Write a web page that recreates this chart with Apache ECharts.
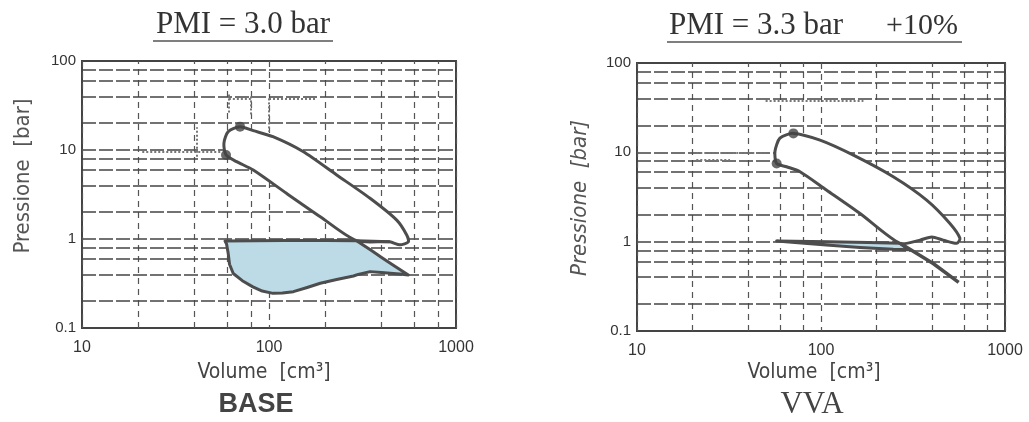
<!DOCTYPE html>
<html>
<head>
<meta charset="utf-8">
<style>
  html, body { margin: 0; padding: 0; background: #fff; }
  #chart { width: 1029px; height: 422px; }
</style>
<script src="https://cdn.jsdelivr.net/npm/echarts@6/dist/echarts.min.js"></script>
</head>
<body>
<div id="chart"></div>
<script>
  // minor log grid lines between the decades
  const volumeGrid = [20, 40, 60, 80, 200, 400, 600, 800];
  const pressureGrid = [0.2, 0.4, 0.6, 0.8, 2, 4, 6, 8, 20, 40, 60, 80];

  // BASE, PMI 3.0 bar  -- [volume cm3, pressure bar]
  const baseHighLoop = [[58.9, 8.8], [57.4, 11.9], [60.5, 16.1], [70, 18.3], [82.4, 16.5], [105, 14.1],
    [152, 9.6], [230, 5.24], [347, 2.87], [482, 1.63], [545, 1.11], [556, 0.93], [501, 0.86],
    [443, 0.93], [294, 0.957], [188, 1.78], [124, 3.26], [82.4, 5.96], [67.1, 7.4]];
  const baseLowLoop = [[58.2, 0.95], [120, 0.96], [200, 0.96], [294, 0.957], [350, 0.75], [400, 0.62],
    [460, 0.51], [556, 0.394], [500, 0.405], [462, 0.41], [400, 0.42], [347, 0.43], [300, 0.4],
    [283, 0.384], [230, 0.35], [188, 0.318], [160, 0.285], [135, 0.256], [118, 0.247], [105, 0.245],
    [92, 0.26], [82, 0.29], [72, 0.34], [64.4, 0.41], [61.5, 0.52], [60.5, 0.69], [59.3, 0.88]];
  const baseDots = [[58.9, 8.8], [70, 18.3]];
  const baseMarks = [
    [[21, 9.5], [55, 9.5]], [[41, 8.4], [41, 18]], [[61, 42], [61, 26]], [[61, 38], [80, 38]],
    [[80, 40], [80, 25]], [[100, 38], [180, 38]], [[100, 38], [100, 16]]
  ];

  // VVA, PMI 3.3 bar (+10%)
  const vvaHighLoop = [[57.4, 7.5], [56.2, 10.2], [59.8, 14.4], [70.8, 16.3], [98.8, 13.7], [150, 9.3],
    [247, 5.33], [375, 2.92], [502, 1.6], [569, 1.09], [547, 0.958], [462, 1.04], [400, 1.13],
    [345, 1.04], [269, 0.958], [163, 2.07], [107, 3.79], [76.9, 6.07], [65, 6.9]];
  const vvaLowLoop = [[57.4, 1.02], [110, 1.0], [180, 0.98], [269, 0.958], [299, 0.81], [247, 0.82],
    [163, 0.86], [107, 0.92], [75, 0.97]];
  const vvaExpansion = [[269, 0.958], [407, 0.57], [560, 0.35]];
  const vvaDots = [[57.4, 7.5], [70.8, 16.3]];
  const vvaMarks = [
    [[50, 37.5], [170, 37.5]], [[21, 9.8], [50, 9.8]], [[21, 8.2], [32, 8.2]]
  ];

  const hLine = { color: '#444', width: 1.7, type: [14, 3] };
  const vLine = { color: '#555', width: 1.2, type: [6, 5] };
  const narrow = '"DejaVu Sans Condensed", "Liberation Sans", sans-serif';

  function gridSeries(i) {
    return {
      type: 'line', xAxisIndex: i, yAxisIndex: i, data: [], silent: true, z: 1,
      markLine: {
        z: 1, symbol: ['none', 'none'], silent: true, animation: false,
        label: { show: false },
        emphasis: { disabled: true },
        data: volumeGrid.map(v => ({ xAxis: v, lineStyle: vLine }))
          .concat(pressureGrid.map(p => ({ yAxis: p, lineStyle: hLine })))
      }
    };
  }

  function loopSeries(i, points, fill, smooth) {
    return {
      type: 'custom', xAxisIndex: i, yAxisIndex: i, data: points, z: 3, silent: true,
      encode: { x: 0, y: 1 },
      renderItem(params, api) {
        if (params.dataIndex !== 0) return null;
        return {
          type: 'polygon',
          shape: { points: points.map(p => api.coord(p)), smooth: smooth },
          style: { fill: fill, stroke: '#4d4d4d', lineWidth: 3, lineJoin: 'round' }
        };
      }
    };
  }

  function marksSeries(i, segs) {
    return {
      type: 'lines', coordinateSystem: 'cartesian2d', xAxisIndex: i, yAxisIndex: i, z: 2, silent: true,
      data: segs.map(s => ({ coords: s })),
      lineStyle: { type: 'dotted', color: '#777', width: 2, opacity: 1 }
    };
  }

  function dotSeries(i, pts) {
    return {
      type: 'scatter', xAxisIndex: i, yAxisIndex: i, data: pts, z: 5, silent: true,
      symbolSize: 10, itemStyle: { color: '#444' }
    };
  }

  function xAxis(i) {
    return {
      type: 'log', logBase: 10, min: 10, max: 1000, gridIndex: i,
      axisLine: { show: false }, axisTick: { show: false },
      axisLabel: { fontSize: 16, color: '#333', margin: 12, fontFamily: 'Liberation Sans', formatter: v => String(v) },
      splitLine: { show: true, lineStyle: vLine }
    };
  }

  function yAxis(i) {
    return {
      type: 'log', logBase: 10, min: 0.1, max: 100, gridIndex: i,
      axisLine: { show: false }, axisTick: { show: false },
      axisLabel: { fontSize: 15, color: '#333', margin: 6, fontFamily: 'Liberation Sans' },
      splitLine: { show: true, lineStyle: hLine }
    };
  }

  function label(text, x, y, font, fill, rotation) {
    return {
      type: 'text', x: x, y: y, rotation: rotation || 0,
      style: { text: text, font: font, fill: fill, textAlign: 'center', textVerticalAlign: 'middle' }
    };
  }

  const chart = echarts.init(document.getElementById('chart'));

  chart.setOption({
    backgroundColor: '#fff',
    animation: false,
    grid: [
      { left: 82, top: 61, width: 374, height: 267, show: true, borderColor: '#444', borderWidth: 2 },
      { left: 637, top: 63, width: 368, height: 268, show: true, borderColor: '#444', borderWidth: 2 }
    ],
    xAxis: [xAxis(0), xAxis(1)],
    yAxis: [yAxis(0), yAxis(1)],
    graphic: [
      label('PMI = 3.0 bar', 243, 25, '31px "Liberation Serif"', '#333'),
      { type: 'line', shape: { x1: 153, y1: 41, x2: 333, y2: 41 }, style: { stroke: '#555', lineWidth: 1.5 } },
      label('PMI = 3.3 bar', 756, 26, '31px "Liberation Serif"', '#333'),
      label('+10%', 922, 26, '30px "Liberation Serif"', '#333'),
      { type: 'line', shape: { x1: 667, y1: 42, x2: 962, y2: 42 }, style: { stroke: '#555', lineWidth: 1.5 } },
      label('Pressione  [bar]', 23, 176, '22px ' + narrow, '#555', Math.PI / 2),
      label('Pressione  [bar]', 580, 198, 'italic 22px ' + narrow, '#555', Math.PI / 2),
      label('Volume  [cm³]', 264, 373, '21px ' + narrow, '#444'),
      label('Volume  [cm³]', 814, 373, '21px ' + narrow, '#444'),
      label('BASE', 256, 405, 'bold 27px "Liberation Sans"', '#444'),
      label('VVA', 812, 405, '31px "Liberation Serif"', '#444')
    ],
    series: [
      gridSeries(0),
      marksSeries(0, baseMarks),
      loopSeries(0, baseLowLoop, '#bcdbe7', 0),
      loopSeries(0, baseHighLoop, '#ffffff', 0.25),
      {
        type: 'line', xAxisIndex: 0, yAxisIndex: 0, z: 4, silent: true, symbol: 'none',
        data: [baseLowLoop[3], baseHighLoop[13]],
        lineStyle: { color: '#4d4d4d', width: 3 }
      },
      dotSeries(0, baseDots),

      gridSeries(1),
      marksSeries(1, vvaMarks),
      loopSeries(1, vvaLowLoop, '#bcdbe7', 0),
      loopSeries(1, vvaHighLoop, '#ffffff', 0.25),
      {
        type: 'line', xAxisIndex: 1, yAxisIndex: 1, z: 4, silent: true, symbol: 'none',
        data: vvaExpansion,
        lineStyle: { color: '#4d4d4d', width: 3.5 }
      },
      dotSeries(1, vvaDots)
    ]
  });
</script>
</body>
</html>
